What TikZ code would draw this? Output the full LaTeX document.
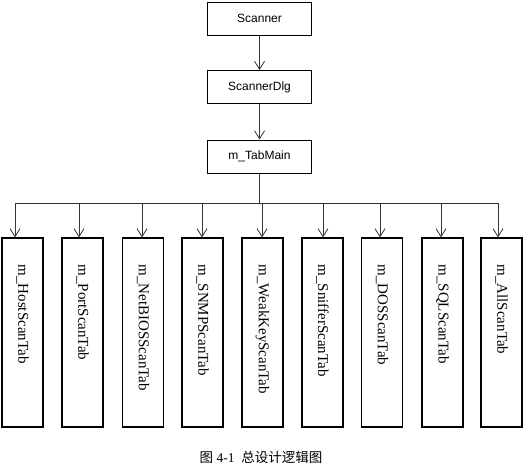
\documentclass[tikz,border=0pt]{standalone}
\usepackage{fontspec}
\setmainfont{Liberation Serif}
\setsansfont{Liberation Sans}
\newfontfamily\cjk{Noto Sans CJK SC}
\usepackage{tikz}
\usetikzlibrary{arrows.meta,positioning}

\begin{document}
\begin{tikzpicture}[x=1pt,y=-1pt,
  box/.style={draw,line width=1pt,minimum width=104pt,minimum height=33pt,inner sep=0pt,font=\sffamily\fontsize{12}{14}\selectfont},
  tab/.style={draw,line width=1.2pt,minimum width=41pt,minimum height=189pt,inner sep=0pt},
  tablabel/.style={rotate=-90,anchor=west,inner sep=0pt,font=\fontsize{15}{17}\selectfont},
  e/.style={draw=black!80,line width=0.8pt},
  ar/.style={e,-{Straight Barb[length=8pt,width=10pt,line width=0.8pt]}}]
  \useasboundingbox (0,0) rectangle (524,472);
  \node[box] (scanner) at (259.5,18.5) {Scanner};
  \node[box] (dlg) at (259.5,87) {ScannerDlg};
  \node[box] (tabmain) at (259.5,156.5) {m\_TabMain};
  \draw[ar] (scanner) -- (dlg);
  \draw[ar] (dlg) -- (tabmain);
  \coordinate (bus) at (259.5,203);
  \draw[e] (tabmain) -- (bus);
  \foreach \i/\cx/\ax/\txt in {1/22.5/15/HostScanTab,2/82.5/79/PortScanTab,3/143/142/NetBIOSScanTab,
      4/202.5/202/SNMPScanTab,5/262.5/262/WeakKeyScanTab,6/322.5/323/SnifferScanTab,
      7/382/380/DOSScanTab,8/442.5/441/SQLScanTab,9/501.5/498/AllScanTab}{
    \node[tab] (t\i) at (\cx,332.5) {};
    \node[tablabel] (l\i) at ([yshift=-27pt]t\i.north) {m\_\txt};
    \coordinate (b\i) at (\ax,203);
    \draw[ar] (b\i) -- (b\i |- t\i.north);
  }
  \draw[e] (b1) -- (b9);
  \node[font=\fontsize{13.5}{15}\selectfont] (cap) at (261,457) {{\cjk 图} 4-1\ \ {\cjk 总设计逻辑图}};
\end{tikzpicture}
\end{document}
